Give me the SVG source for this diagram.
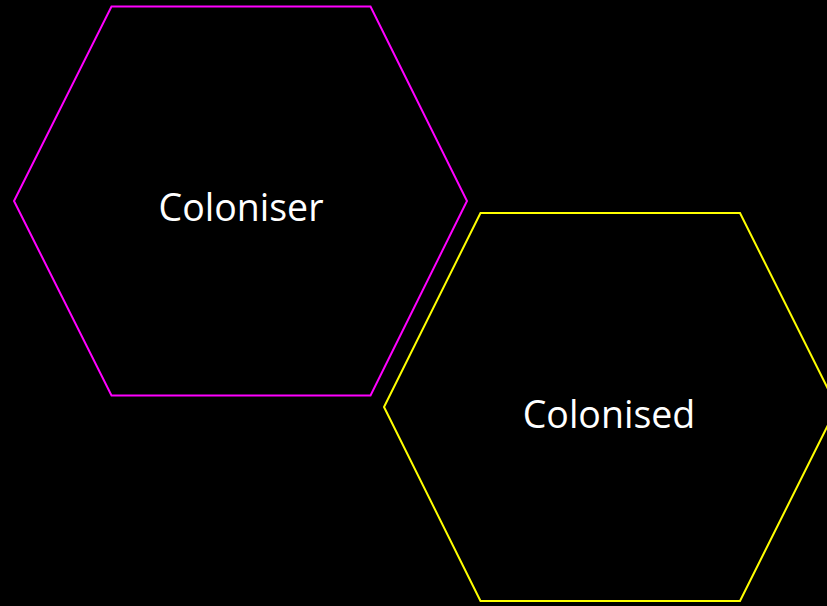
<svg xmlns="http://www.w3.org/2000/svg" width="827" height="606" viewBox="0 0 827 606">
<style>
.hex{fill:#000;stroke-width:2}
.lbl{font-family:"Open Sans","Liberation Sans",Arial,sans-serif;font-size:37.5px;fill:#fff;text-anchor:middle}
</style>
<rect width="827" height="606" fill="#000"/>
<g id="coloniser">
<polygon class="hex" stroke="#ff00ff" points="111.5,6.5 370.5,6.5 467,201 370.5,395.5 111.5,395.5 14,201"/>
<text class="lbl" x="241" y="221">Coloniser</text>
</g>
<g id="colonised">
<polygon class="hex" stroke="#ffff00" points="480.5,213 740,213 837,407 740,601 480.5,601 384,407"/>
<text class="lbl" x="609" y="428">Colonised</text>
</g>
<g id="connectors"></g>
</svg>
